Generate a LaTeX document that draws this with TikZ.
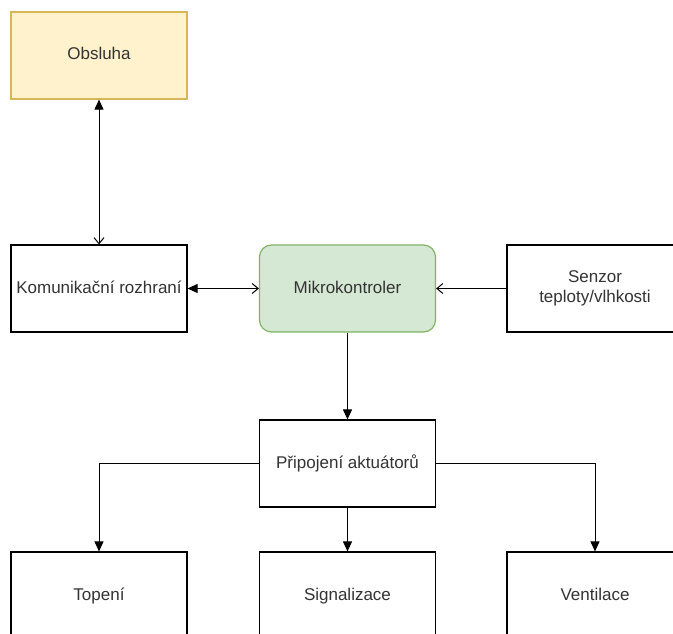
\documentclass[tikz,border=0pt]{standalone}
\usepackage{fontspec}
\setmainfont{Liberation Sans}
\usetikzlibrary{arrows.meta}
\definecolor{obsfill}{HTML}{FFF2CC}
\definecolor{obsdraw}{HTML}{D6B656}
\definecolor{mcufill}{HTML}{D5E8D4}
\definecolor{mcudraw}{HTML}{82B366}
\definecolor{txt}{HTML}{333333}
\begin{document}
\begin{tikzpicture}[x=1pt,y=-1pt,font=\fontsize{17}{20}\selectfont]
					\tikzstyle{box}=[draw=black,line width=1.2pt,fill=white,minimum width=176pt,minimum height=87pt,inner sep=0pt,align=center,text=txt,text height=12.5pt,text depth=3.5pt]
					\tikzstyle{full}=[-{Triangle[length=10pt,width=9pt]}]
					\tikzstyle{open}=[-{Straight Barb[length=6pt,width=10pt]}]
					\clip (0,0) rectangle (673,634);
					\fill[white] (0,0) rectangle (673,634);
					\node[box,fill=obsfill,draw=obsdraw](obs) at (99,55.5){Obsluha};
					\node[box](kom) at (99,288.5){Komunika\v{c}n\'{\i} rozhran\'{\i}};
					\node[box,fill=mcufill,draw=mcudraw,rounded corners=12pt](mcu) at (347.5,288.5){Mikrokontroler};
					\node[box,text height=,text depth=](sen) at (595,288.5){Senzor\\teploty/vlhkosti};
					\node[box](akt) at (347.5,463.5){P\v{r}ipojen\'{\i} aktu\'{a}tor\r{u}};
					\node[box](topeni) at (99,595.5){Topen\'{\i}};
					\node[box](sig) at (347.5,595.5){Signalizace};
					\node[box](ven) at (595,595.5){Ventilace};
					\path[line width=1pt]
						(kom) edge[{Straight Barb[length=6pt,width=10pt]}-{Triangle[length=10pt,width=9pt]}] (obs)
						(mcu) edge[{Straight Barb[length=6pt,width=10pt]}-{Triangle[length=10pt,width=9pt]}] (kom)
						(sen) edge[open] (mcu)
						(mcu) edge[full] (akt)
						(akt) edge[full] (sig);
					\draw[full,line width=1pt] (akt.west) -| (topeni.north);
					\draw[full,line width=1pt] (akt.east) -| (ven.north);
				\end{tikzpicture}
\end{document}
